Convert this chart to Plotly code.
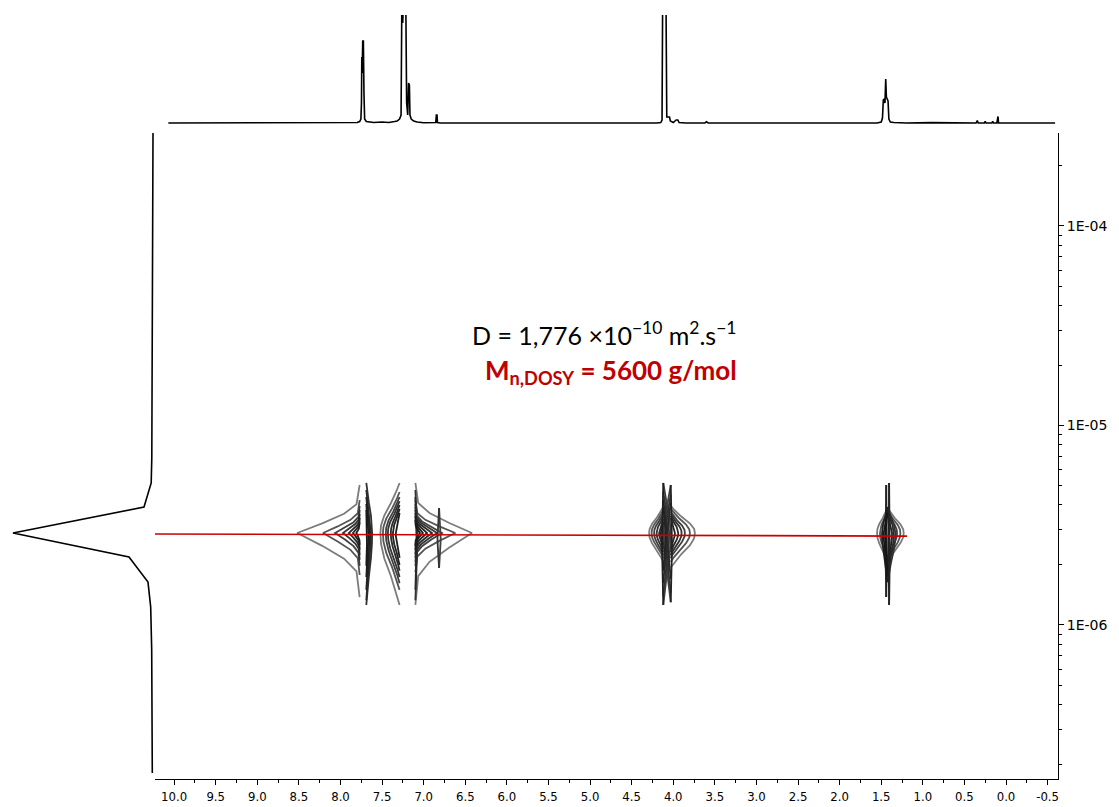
import math
import plotly.graph_objects as go

W, H = 1119, 807

# ---------------- 1D 1H spectrum on top (ppm, intensity) ----------------
spec_ppm = [10.07, 7.86, 7.80, 7.77, 7.755, 7.748, 7.744, 7.740, 7.733, 7.725, 7.718, 7.71, 7.69,
            7.60, 7.50, 7.42, 7.35, 7.32, 7.29, 7.272, 7.262, 7.252, 7.240, 7.225, 7.215, 7.205,
            7.192, 7.182, 7.172, 7.165, 7.15, 7.12, 7.08, 7.00, 6.86, 6.855, 6.848, 6.840, 6.835,
            6.80, 4.20, 4.15, 4.135, 4.127, 4.115, 4.105, 4.095, 4.088, 4.082, 4.078, 4.06, 4.045,
            4.035, 4.00, 3.965, 3.945, 3.93, 3.85, 3.62, 3.60, 3.58, 1.90, 1.84, 1.80, 1.55, 1.50,
            1.485, 1.475, 1.465, 1.455, 1.446, 1.438, 1.428, 1.418, 1.408, 1.39, 1.35, 1.20, 0.90,
            0.60, 0.36, 0.345, 0.335, 0.26, 0.25, 0.24, 0.17, 0.16, 0.15, 0.11, 0.103, 0.096,
            0.09, -0.59]
spec_int = [0, 0.3, 0.5, 1.5, 4, 20, 66, 50, 82, 82, 30, 4, 1.5,
            0.5, 1, 0.5, 1.5, 2, 4, 8, 130, 100, 130, 130, 120, 20,
            8, 40, 38, 8, 4, 2, 1, 0.3, 0, 0.5, 8, 8, 0.5,
            0, 0, 0.5, 3, 130, 130, 110, 130, 130, 20, 6, 6, 6,
            2, 0.5, 3, 3, 0.5, 0, 0, 1.2, 0, 0, 0.6, 0, 0, 1,
            5, 23, 24, 20, 44, 26, 24, 22, 4, 1, 0.5, 0, 0.4,
            0, 0, 2.5, 0, 0, 1.5, 0, 0, 1.5, 0, 0, 6.5, 6.5,
            0, 0]

# ---------------- DOSY projection on the left (D, intensity) ----------------
proj_D = [2.92e-4, 4.26e-5, 1.34e-5, 6.87e-6, 5.15e-6, 3.90e-6, 2.89e-6, 2.19e-6, 1.64e-6,
          1.23e-6, 7.50e-7, 4.21e-7, 1.81e-7]
proj_int = [0, 0.3, 0.8, 1.2, 1.8, 9, 140, 24, 5, 2.3, 1.3, 0.9, 0.7]

# ---------------- fitted diffusion line ----------------
fit_ppm = [10.23, 1.19]
fit_D = [2.86e-6, 2.79e-6]

# ---------------- 2D contours: lobes ----------------
D_CENTER = 2.89e-6
lobe_col = [7.77, 7.69, 7.29, 7.10, 7.10, 6.815, 4.12, 4.12, 4.03, 4.03,
            1.425, 1.425, 1.425, 1.44, 1.405]
lobe_shape = ["arrow", "lens", "lens", "arrow", "lens", "lens", "lens", "lens", "lens", "lens",
              "lens", "lens", "lens", "lens", "lens"]
lobe_shade = [0, 3, 0, 0, 3, 2, 0, 2, 2, 0, 0, 0, 3, 4, 4]
lobe_tips = [
    [8.52, 8.21, 8.065, 7.97, 7.90, 7.85, 7.81],
    [7.62, 7.635, 7.65, 7.665, 7.68],
    [7.52, 7.49, 7.455, 7.43, 7.395, 7.37, 7.335],
    [6.42, 6.62, 6.78, 6.84, 6.90, 6.96, 7.01, 7.045],
    [7.075, 7.085],
    [6.795, 6.835],
    [4.29, 4.26, 4.23, 4.20, 4.17, 4.15],
    [4.03, 4.05, 4.07, 4.09, 4.135],
    [4.12, 4.10, 4.08, 4.015],
    [3.74, 3.80, 3.86, 3.90, 3.94, 3.98],
    [1.23, 1.27, 1.31],
    [1.55, 1.515],
    [1.33, 1.35, 1.37, 1.49, 1.47, 1.45],
    [1.43, 1.45],
    [1.395, 1.415],
]
lobe_tops = [
    [5.03e-6, 4.23e-6, 3.95e-6, 3.77e-6, 3.60e-6, 3.44e-6, 3.28e-6],
    [5.15e-6, 4.75e-6, 4.38e-6, 4.04e-6, 3.77e-6],
    [5.15e-6, 4.64e-6, 4.38e-6, 4.18e-6, 4.00e-6, 3.82e-6, 3.64e-6],
    [5.15e-6, 4.23e-6, 4.04e-6, 3.90e-6, 3.77e-6, 3.64e-6, 3.52e-6, 3.36e-6],
    [4.75e-6, 4.38e-6],
    [3.86e-6, 3.86e-6],
    [3.90e-6, 3.77e-6, 3.64e-6, 3.52e-6, 3.40e-6, 3.28e-6],
    [5.15e-6, 4.64e-6, 4.23e-6, 3.90e-6, 5.15e-6],
    [5.03e-6, 4.50e-6, 4.10e-6, 5.03e-6],
    [3.95e-6, 3.82e-6, 3.69e-6, 3.60e-6, 3.52e-6, 3.44e-6],
    [3.86e-6, 3.77e-6, 3.69e-6],
    [3.86e-6, 3.77e-6],
    [3.90e-6, 3.77e-6, 3.64e-6, 3.90e-6, 3.77e-6, 3.64e-6],
    [5.03e-6, 5.03e-6],
    [5.15e-6, 5.15e-6],
]
lobe_bots = [
    [1.38e-6, 1.78e-6, 1.98e-6, 2.12e-6, 2.24e-6, 2.38e-6, 2.52e-6],
    [1.26e-6, 1.33e-6, 1.50e-6, 1.74e-6, 1.98e-6],
    [1.26e-6, 1.50e-6, 1.62e-6, 1.74e-6, 1.87e-6, 2.00e-6, 2.17e-6],
    [1.26e-6, 1.84e-6, 1.98e-6, 2.07e-6, 2.17e-6, 2.27e-6, 2.38e-6, 2.49e-6],
    [1.33e-6, 1.50e-6],
    [1.93e-6, 1.93e-6],
    [2.07e-6, 2.17e-6, 2.24e-6, 2.32e-6, 2.41e-6, 2.52e-6],
    [1.26e-6, 1.40e-6, 1.62e-6, 1.87e-6, 1.26e-6],
    [1.30e-6, 1.45e-6, 1.70e-6, 1.30e-6],
    [1.94e-6, 2.07e-6, 2.17e-6, 2.24e-6, 2.32e-6, 2.41e-6],
    [2.07e-6, 2.12e-6, 2.17e-6],
    [2.07e-6, 2.12e-6],
    [1.64e-6, 1.75e-6, 1.87e-6, 1.64e-6, 1.75e-6, 1.87e-6],
    [1.38e-6, 1.38e-6],
    [1.26e-6, 1.26e-6],
]

ppm_ticks = [10.0, 9.5, 9.0, 8.5, 8.0, 7.5, 7.0, 6.5, 6.0, 5.5, 5.0, 4.5, 4.0, 3.5, 3.0, 2.5,
             2.0, 1.5, 1.0, 0.5, 0.0, -0.5]
ppm_labels = ["10.0", "9.5", "9.0", "8.5", "8.0", "7.5", "7.0", "6.5", "6.0", "5.5", "5.0",
              "4.5", "4.0", "3.5", "3.0", "2.5", "2.0", "1.5", "1.0", "0.5", "0.0", "-0.5"]
ppm_minor = [9.75, 9.25, 8.75, 8.25, 7.75, 7.25, 6.75, 6.25, 5.75, 5.25, 4.75, 4.25, 3.75,
             3.25, 2.75, 2.25, 1.75, 1.25, 0.75, 0.25, -0.25]
D_ticks = [1e-6, 1e-5, 1e-4]
D_labels = ["1E-06", "1E-05", "1E-04"]
D_minor = [m * 10.0 ** e for e in (-7, -6, -5, -4) for m in range(2, 10)]

# contour outline profiles (u: column -> tip, v: centre -> top/bottom)
ARROW = [(0, 1), (0.05, 0.6), (0.25, 0.4), (0.6, 0.2), (1, 0), (0.6, -0.2), (0.25, -0.4),
         (0.05, -0.6), (0, -1)]
LENS = [(0, 1), (0.15, 0.85), (0.45, 0.6), (0.8, 0.35), (0.97, 0.15), (1, 0), (0.97, -0.15),
        (0.8, -0.35), (0.45, -0.6), (0.15, -0.85), (0, -1)]
PROFILES = {"arrow": ARROW, "lens": LENS}
SHADES = ["#7c7c7c", "#555555", "#404040", "#333333", "#2a2a2a", "#232323", "#1e1e1e",
          "#1a1a1a", "#161616"]

by_shade = {c: ([], []) for c in SHADES}
lc = math.log10(D_CENTER)
for col, shape, s0, tips, tops, bots in zip(lobe_col, lobe_shape, lobe_shade,
                                            lobe_tips, lobe_tops, lobe_bots):
    for i, (tip, top, bot) in enumerate(zip(tips, tops, bots)):
        xs, ys = by_shade[SHADES[min(s0 + i, len(SHADES) - 1)]]
        lt, lb = math.log10(top), math.log10(bot)
        for u, v in PROFILES[shape]:
            xs.append(col + (tip - col) * u)
            ys.append(10 ** (lc + (lt - lc) * v if v >= 0 else lc + (lc - lb) * v))
        xs.append(None)
        ys.append(None)

fig = go.Figure()

for c in SHADES:
    xs, ys = by_shade[c]
    if xs:
        fig.add_trace(go.Scatter(x=xs, y=ys, mode="lines", line=dict(color=c, width=1.8),
                                 xaxis="x", yaxis="y", hoverinfo="skip"))

fig.add_trace(go.Scatter(x=fit_ppm, y=fit_D, mode="lines", line=dict(color="#CC0000", width=1.6),
                         xaxis="x", yaxis="y"))

fig.add_trace(go.Scatter(x=spec_ppm, y=spec_int, mode="lines", line=dict(color="black", width=1.6),
                         xaxis="x2", yaxis="y2"))

fig.add_trace(go.Scatter(x=proj_int, y=proj_D, mode="lines", line=dict(color="black", width=1.6),
                         xaxis="x3", yaxis="y"))

XDOM = [155 / W, 1058 / W]
XRANGE = [10.23, -0.625]

fig.update_layout(
    template="none",
    width=W, height=H,
    margin=dict(l=0, r=0, t=0, b=0),
    paper_bgcolor="white", plot_bgcolor="white",
    showlegend=False,
    xaxis=dict(domain=XDOM, range=XRANGE, anchor="y", automargin=False,
               tickmode="array", tickvals=ppm_ticks, ticktext=ppm_labels,
               ticks="outside", ticklen=5, tickwidth=1, tickcolor="black",
               showline=True, linecolor="black", linewidth=1,
               showgrid=False, zeroline=False,
               tickfont=dict(family="DejaVu Sans Condensed, Liberation Sans Narrow, DejaVu Sans",
                             size=13, color="black"),
               minor=dict(tickmode="array", tickvals=ppm_minor, ticks="outside", ticklen=3,
                          tickwidth=1, tickcolor="black", showgrid=False)),
    yaxis=dict(domain=[1 - 779 / H, 1 - 133 / H], type="log", range=[-6.772, -3.534],
               side="right", anchor="x", automargin=False,
               tickmode="array", tickvals=D_ticks, ticktext=D_labels,
               ticks="outside", ticklen=5, tickwidth=1, tickcolor="black",
               showline=True, linecolor="black", linewidth=1,
               showgrid=False, zeroline=False,
               tickfont=dict(family="DejaVu Sans", size=14, color="black"),
               minor=dict(tickmode="array", tickvals=D_minor, ticks="outside", ticklen=3,
                          tickwidth=1, tickcolor="black", showgrid=False)),
    xaxis2=dict(domain=XDOM, range=XRANGE, anchor="y2", visible=False),
    yaxis2=dict(domain=[1 - 133 / H, 1 - 15 / H], range=[-10, 108], anchor="x2", visible=False),
    xaxis3=dict(domain=[0, 155 / W], range=[153, -2], anchor="y", visible=False),
    annotations=[
        dict(xref="paper", yref="paper", x=604 / W, y=1 - 334 / H, showarrow=False,
             xanchor="center", yanchor="middle",
             text="D = 1,776 ×10<sup>−10</sup> m<sup>2</sup>.s<sup>−1</sup>",
             font=dict(family="Lato", size=25, color="black")),
        dict(xref="paper", yref="paper", x=611 / W, y=1 - 371 / H, showarrow=False,
             xanchor="center", yanchor="middle",
             text="<b>M<sub>n,DOSY</sub> = 5600 g/mol</b>",
             font=dict(family="Lato", size=26, color="#C00000")),
    ],
)

# page margin off so the 1119x807 figure fills the window exactly
fig.write_html("out.html", config={"displayModeBar": False},
               post_script="document.body.style.margin='0';")
